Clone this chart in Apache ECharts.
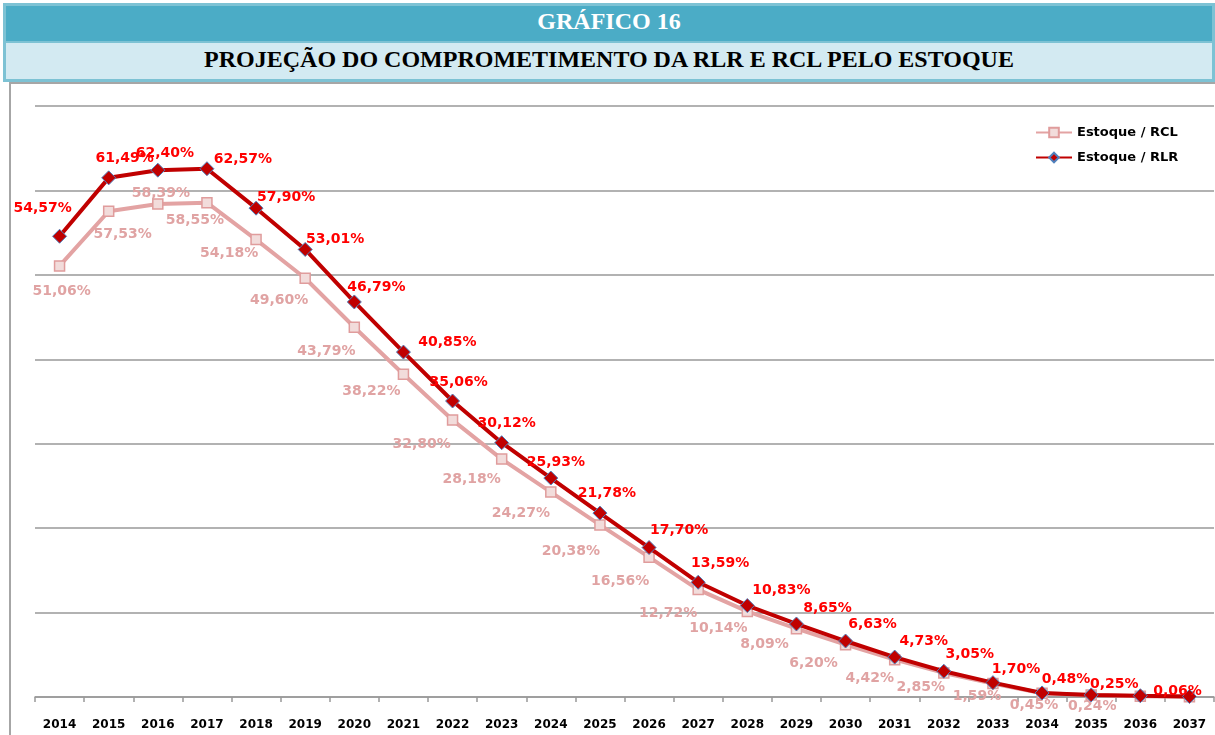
<!DOCTYPE html>
<html>
<head>
<meta charset="utf-8">
<script src="https://cdn.jsdelivr.net/npm/echarts@6/dist/echarts.min.js"></script>
<style>
  html, body { margin: 0; padding: 0; background: #fff; }
  .page { position: relative; width: 1215px; height: 735px; overflow: hidden; }
  .head {
    position: absolute; left: 3px; top: 3px; width: 1206px; height: 73px;
    border: 3px solid #7DC2D4; background: #7DC2D4;
  }
  .band1 {
    position: absolute; left: 0; top: 0; width: 1206px; height: 35px;
    background: #4BACC6; color: #fff; text-align: center;
    font: bold 24px "Liberation Serif", "DejaVu Serif", serif; line-height: 30px;
  }
  .band2 {
    position: absolute; left: 0; top: 37px; width: 1206px; height: 36px;
    background: #D3EAF2; color: #000; text-align: center;
    font: bold 24px "Liberation Serif", "DejaVu Serif", serif; line-height: 32px;
  }
  .frame {
    position: absolute; left: 9px; top: 82px; width: 1210px; height: 651px;
    border-left: 2px solid #A6A6A6; border-top: 2px solid #A6A6A6; border-bottom: 1px solid #D9D9D9;
  }
  #chart { position: absolute; left: 0; top: 0; width: 1215px; height: 735px; }
</style>
</head>
<body>
<div class="page">
  <div class="head">
    <div class="band1">GRÁFICO 16</div>
    <div class="band2">PROJEÇÃO DO COMPROMETIMENTO DA RLR E RCL PELO ESTOQUE</div>
  </div>
  <div class="frame"></div>
  <div id="chart"></div>
</div>
<script>
// anos do eixo x
const anos = ['2014', '2015', '2016', '2017', '2018', '2019', '2020', '2021', '2022', '2023', '2024', '2025',
  '2026', '2027', '2028', '2029', '2030', '2031', '2032', '2033', '2034', '2035', '2036', '2037'];
// Estoque / RCL (%)
const estoqueRCL = [51.06, 57.53, 58.39, 58.55, 54.18, 49.60, 43.79, 38.22, 32.80, 28.18, 24.27, 20.38,
  16.56, 12.72, 10.14, 8.09, 6.20, 4.42, 2.85, 1.59, 0.45, 0.24, 0.10, 0.03];
// Estoque / RLR (%)
const estoqueRLR = [54.57, 61.49, 62.40, 62.57, 57.90, 53.01, 46.79, 40.85, 35.06, 30.12, 25.93, 21.78,
  17.70, 13.59, 10.83, 8.65, 6.63, 4.73, 3.05, 1.70, 0.48, 0.25, 0.15, 0.06];
// pontos sem rótulo no original
const semRotuloRCL = [22, 23];
const semRotuloRLR = [22];
const yTicks = [0, 10, 20, 30, 40, 50, 60, 70];

// deslocamento dos rótulos (estilo, ajustado a olho)
const offRLR = [[-17, -8], [16, 0], [7, 3], [36, 10], [30, 9], [30, 9], [22, 5], [44, 10], [6, 1], [5, 0],
  [5, 4], [7, 0], [30, 2], [22, 1], [34, 4], [31, 4], [27, 3], [29, 4], [26, 3], [23, 6], [24, 6], [23, 9],
  [0, 0], [-12, 14]];
const offRCL = [[2, 8], [14, 5], [3, -28], [-12, 0], [-27, -4], [-26, 4], [-28, 6], [-32, -1], [-31, 7],
  [-30, 3], [-30, 4], [-29, 9], [-29, 6], [-30, 6], [-29, -1], [-32, -2], [-32, 1], [-25, 1], [-23, -3],
  [-16, -5], [-8, -6], [1, -6], [0, 0], [0, 0]];

const fmt = v => v.toFixed(2).replace('.', ',') + '%';
const fonte = '"DejaVu Sans", "Noto Sans", sans-serif';

const chart = echarts.init(document.getElementById('chart'));

const dadosRCL = estoqueRCL.map((v, i) => ({
  value: v,
  label: semRotuloRCL.includes(i) ? { show: false } : { offset: offRCL[i] }
}));
const dadosRLR = estoqueRLR.map((v, i) => ({
  value: v,
  label: semRotuloRLR.includes(i) ? { show: false } : { offset: offRLR[i] }
}));

chart.setOption({
  animation: false,
  grid: { left: 35, right: 1, top: 106, bottom: 38, containLabel: false },
  legend: {
    orient: 'vertical',
    left: 1030,
    top: 121,
    itemWidth: 36,
    itemHeight: 12,
    itemGap: 12,
    textStyle: { color: '#000', fontSize: 13, fontWeight: 'bold', fontFamily: fonte },
    data: ['Estoque / RCL', 'Estoque / RLR']
  },
  xAxis: {
    type: 'category',
    data: anos,
    boundaryGap: true,
    axisLine: { lineStyle: { color: '#999', width: 1.5 } },
    axisTick: { show: true, length: 5, lineStyle: { color: '#999', width: 1.5 } },
    axisLabel: { color: '#000', fontSize: 12, fontWeight: 'bold', fontFamily: fonte, margin: 22 }
  },
  yAxis: {
    type: 'value',
    min: yTicks[0],
    max: yTicks[yTicks.length - 1],
    interval: 10,
    axisLabel: { show: false },
    axisLine: { show: false },
    axisTick: { show: false },
    splitLine: { lineStyle: { color: '#999', width: 1.5 } }
  },
  series: [
    {
      name: 'Estoque / RCL',
      type: 'line',
      data: dadosRCL,
      symbol: 'rect',
      symbolSize: 10,
      z: 2,
      lineStyle: { color: '#E3A3A3', width: 4 },
      itemStyle: { color: '#F2DCDB', borderColor: '#E09C9C', borderWidth: 1.5 },
      label: {
        show: true,
        position: 'bottom',
        formatter: p => fmt(p.value),
        color: '#E0A3A3',
        fontSize: 14,
        fontWeight: 'bold',
        fontFamily: fonte
      }
    },
    {
      name: 'Estoque / RLR',
      type: 'line',
      data: dadosRLR,
      symbol: 'diamond',
      symbolSize: 14,
      z: 3,
      lineStyle: { color: '#C00000', width: 4 },
      itemStyle: { color: '#C00000', borderColor: '#4F81BD', borderWidth: 1 },
      label: {
        show: true,
        position: 'top',
        formatter: p => fmt(p.value),
        color: '#FF0000',
        fontSize: 14,
        fontWeight: 'bold',
        fontFamily: fonte
      }
    }
  ]
});
</script>
</body>
</html>
